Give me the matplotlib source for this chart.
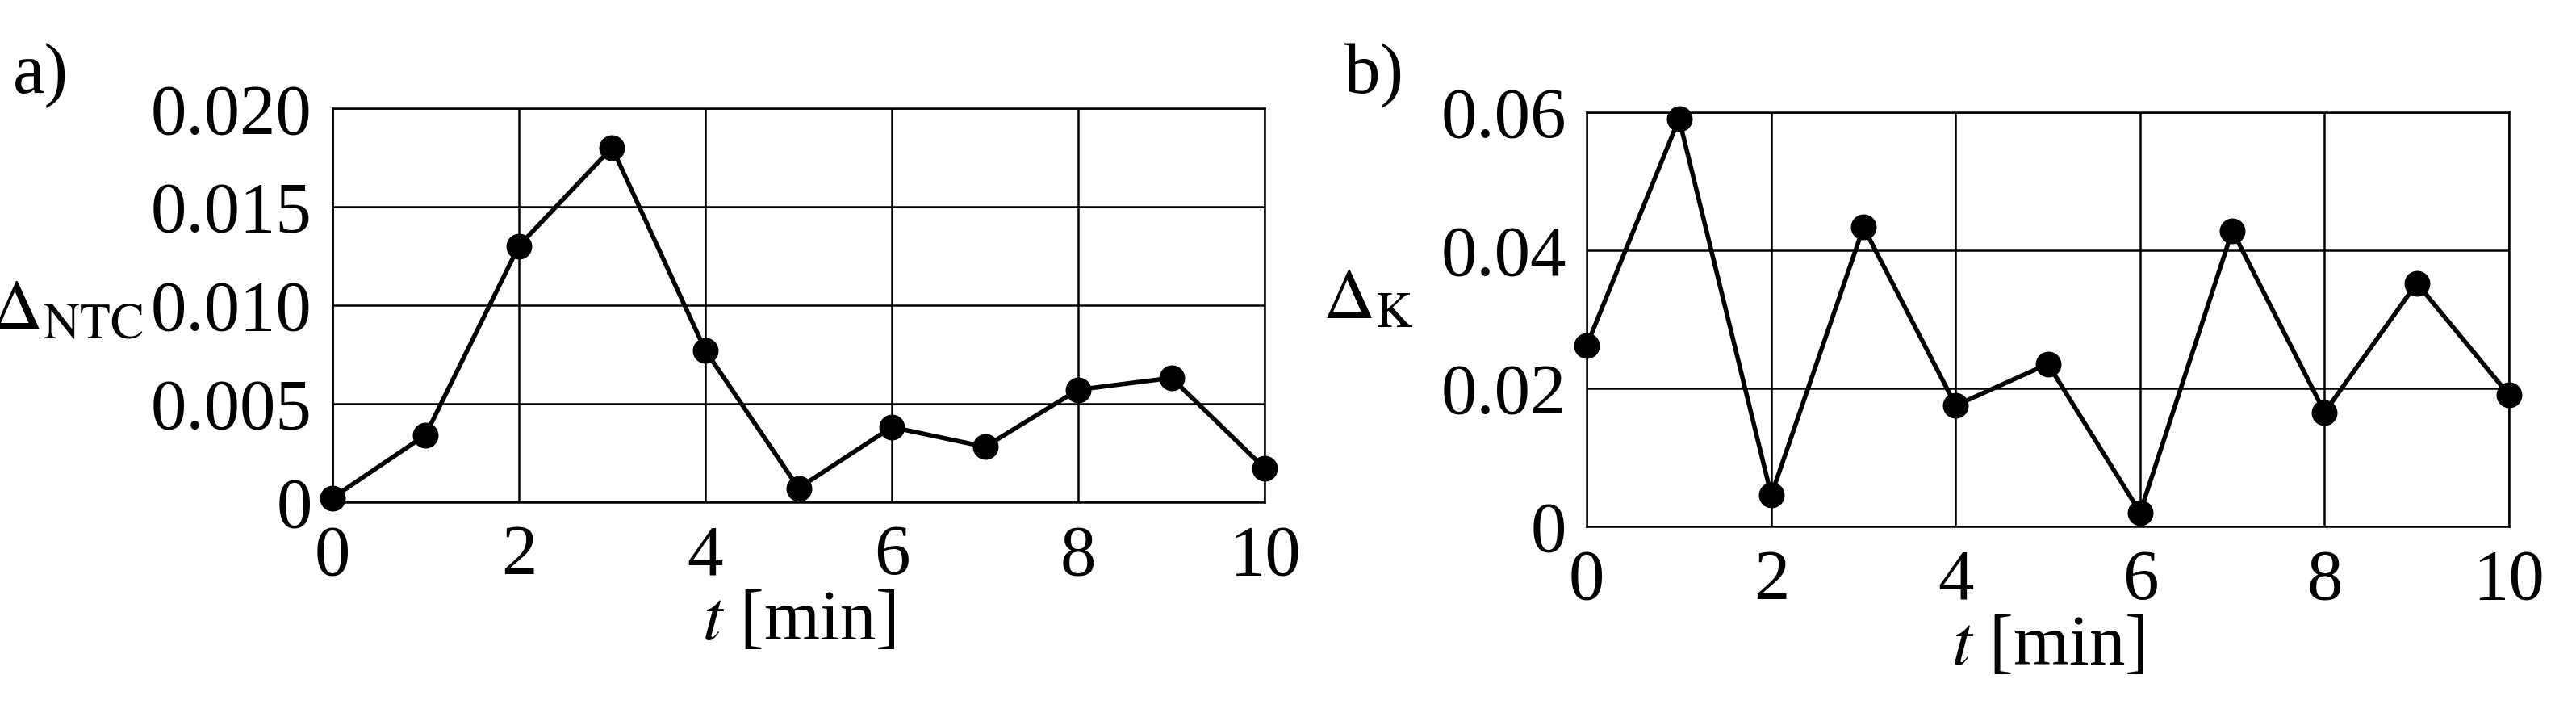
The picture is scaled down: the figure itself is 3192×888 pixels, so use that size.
import matplotlib
matplotlib.use('Agg')
import matplotlib.pyplot as plt

# dados
t_min = list(range(11))
delta_ntc = [0.0002, 0.0034, 0.0130, 0.0180, 0.0077, 0.0007, 0.0038, 0.0028, 0.0057, 0.0063, 0.0017]
delta_k = [0.0262, 0.0590, 0.0045, 0.0433, 0.0175, 0.0235, 0.0020, 0.0428, 0.0165, 0.0352, 0.0190]
xticks = [0, 2, 4, 6, 8, 10]
yticks_a = [0, 0.005, 0.010, 0.015, 0.020]
yticks_a_lbl = ['0', '0.005', '0.010', '0.015', '0.020']
yticks_b = [0, 0.02, 0.04, 0.06]
yticks_b_lbl = ['0', '0.02', '0.04', '0.06']

plt.rcParams['font.family'] = ['Liberation Serif', 'DejaVu Serif']
plt.rcParams['mathtext.fontset'] = 'stix'
FS = 64

fig = plt.figure(figsize=(31.92, 8.88), dpi=100)
ax1 = fig.add_axes([0.129, 0.300, 0.362, 0.549])
ax2 = fig.add_axes([0.616, 0.266, 0.358, 0.578])

def style(ax, y, yt, ytl, ymax):
    ax.plot(t_min, y, color='black', lw=4, marker='o', markersize=22, zorder=5, clip_on=False)
    ax.set_xlim(0, 10)
    ax.set_ylim(0, ymax)
    ax.set_xticks(xticks)
    ax.set_yticks(yt)
    ax.set_yticklabels(ytl)
    ax.grid(True, color='black', lw=1.8)
    ax.tick_params(length=0, labelsize=FS)
    ax.tick_params(axis='y', pad=18)
    ax.tick_params(axis='x', pad=20)
    for s in ax.spines.values():
        s.set_linewidth(1.8)
    ax.set_xlabel('$t$ [min]', fontsize=FS, labelpad=0)

style(ax1, delta_ntc, yticks_a, yticks_a_lbl, 0.020)
style(ax2, delta_k, yticks_b, yticks_b_lbl, 0.06)

fig.text(0.026, 0.565, r'$\Delta_{\mathrm{NTC}}$', fontsize=FS, ha='center', va='center')
fig.text(0.531, 0.580, r'$\Delta_{\mathrm{K}}$', fontsize=FS, ha='center', va='center')
fig.text(0.005, 0.895, 'a)', fontsize=FS, ha='left', va='center')
fig.text(0.522, 0.895, 'b)', fontsize=FS, ha='left', va='center')

fig.savefig('out.png', dpi=100)
